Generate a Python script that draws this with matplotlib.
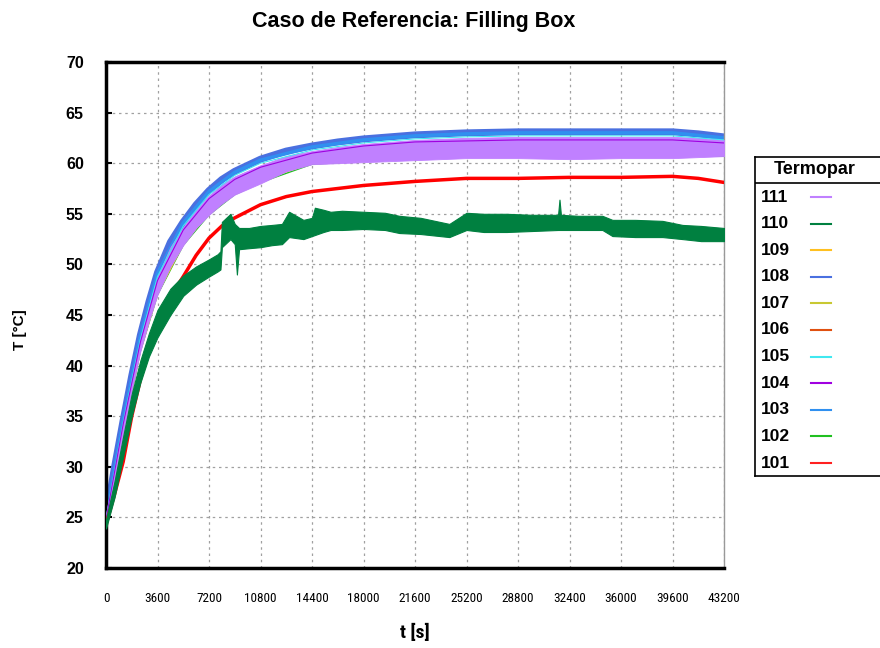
import matplotlib
matplotlib.use("Agg")
import matplotlib.pyplot as plt
from matplotlib import font_manager
from matplotlib.lines import Line2D

# tiempos (s) y temperaturas (°C)
t_band = [0, 600, 1200, 1800, 2400, 3000, 3600, 4500, 5400, 6300, 7200, 8100, 9000,
          10800, 12600, 14400, 16200, 18000, 21600, 25200, 28800, 32400, 36000,
          39600, 41400, 43200]
T108 = [25.0, 30.0, 34.6, 39.0, 43.0, 46.3, 49.2, 52.2, 54.2, 55.9, 57.3, 58.4, 59.2,
        60.4, 61.2, 61.7, 62.1, 62.4, 62.8, 63.0, 63.1, 63.1, 63.1, 63.1, 62.9, 62.6]
T111_hi = [25.3, 29.8, 34.4, 38.7, 42.6, 45.9, 48.8, 51.7, 53.7, 55.4, 56.8, 57.9, 58.7,
           59.8, 60.7, 61.2, 61.6, 61.9, 62.3, 62.5, 62.6, 62.6, 62.6, 62.6, 62.5, 62.3]
T111_lo = [24.4, 28.8, 33.3, 37.6, 41.4, 44.4, 47.0, 49.8, 51.9, 53.6, 54.9, 56.0, 56.9,
           58.0, 59.2, 59.9, 60.0, 60.1, 60.3, 60.5, 60.5, 60.4, 60.5, 60.5, 60.6, 60.7]
T101 = [24.3, 27.3, 30.5, 35.0, 38.6, 41.6, 44.0, 46.8, 48.8, 50.9, 52.6, 53.8, 54.6,
        55.9, 56.7, 57.2, 57.5, 57.8, 58.2, 58.5, 58.5, 58.6, 58.6, 58.7, 58.5, 58.1]

t_g = [0, 600, 1200, 1800, 2400, 3000, 3600, 4500, 5400, 6300,
       7200, 7800, 8000, 8100, 8700, 9000, 9150, 9300, 10000, 10800,
       11600, 12300, 12800, 13300, 13800, 14400, 14600, 15200, 15700, 16500,
       18000, 19500, 20500, 22000, 24000, 25200, 26400, 28000, 29800, 31600,
       31700, 31800, 33000, 34700, 35400, 37000, 38900, 40300, 41600, 43200]
T110_hi = [24.8, 28.6, 33.0, 37.2, 40.5, 43.2, 45.5, 47.6, 48.9, 49.8,
           50.5, 51.0, 51.3, 54.2, 55.0, 54.0, 53.8, 53.6, 53.6, 53.8,
           53.9, 54.0, 55.2, 54.8, 54.4, 54.6, 55.6, 55.4, 55.2, 55.3,
           55.2, 55.1, 54.8, 54.6, 54.0, 55.1, 55.0, 55.0, 54.9, 54.9,
           56.4, 54.9, 54.8, 54.8, 54.4, 54.4, 54.3, 53.9, 53.8, 53.6]
T110_lo = [23.9, 27.0, 31.0, 35.0, 38.3, 40.9, 42.8, 45.0, 46.9, 48.0,
           48.8, 49.3, 49.5, 51.7, 52.5, 52.0, 49.0, 51.5, 51.6, 51.7,
           51.9, 52.0, 52.7, 52.6, 52.5, 52.8, 52.9, 53.2, 53.4, 53.4,
           53.5, 53.4, 53.1, 53.0, 52.7, 53.4, 53.2, 53.2, 53.3, 53.4,
           53.4, 53.4, 53.4, 53.4, 52.8, 52.7, 52.7, 52.5, 52.3, 52.3]

t_s = [0, 1200, 2400, 3600, 5400, 7200, 9000, 10800, 14400, 18000, 21600, 25200,
       28800, 32400, 36000, 39600, 43200]
T102 = [24.4, 33.3, 41.4, 47.0, 51.9, 54.9, 56.9, 58.1, 59.9, 60.2, 60.5, 60.7, 60.7, 60.7, 60.7, 60.8, 60.7]
T103 = [25.0, 34.6, 42.9, 49.1, 54.1, 57.2, 59.1, 60.3, 61.6, 62.3, 62.7, 62.9, 63.0, 63.0, 63.0, 63.0, 62.5]
T104 = [24.8, 34.2, 42.3, 48.4, 53.4, 56.5, 58.4, 59.6, 61.0, 61.7, 62.1, 62.2, 62.3, 62.3, 62.3, 62.3, 62.0]
T105 = [24.9, 34.4, 42.6, 48.8, 53.8, 56.9, 58.8, 60.0, 61.3, 62.0, 62.4, 62.6, 62.7, 62.7, 62.7, 62.7, 62.3]
T106 = [25.0, 34.6, 42.9, 49.1, 54.1, 57.2, 59.1, 60.3, 61.7, 62.4, 62.8, 63.0, 63.1, 63.1, 63.1, 63.1, 62.6]
T107 = [24.6, 33.6, 41.6, 47.3, 52.2, 55.3, 57.2, 58.5, 60.1, 60.5, 60.8, 61.0, 61.0, 61.0, 61.0, 61.1, 60.9]
T109 = [24.6, 33.4, 41.5, 47.1, 52.0, 55.1, 57.1, 58.3, 60.0, 60.4, 60.7, 60.9, 60.9, 60.9, 60.9, 61.0, 60.8]

labels = ["111", "110", "109", "108", "107", "106", "105", "104", "103", "102", "101"]
colors = ["#c080ff", "#008040", "#ffc020", "#4a70e0", "#c8c832", "#e05010",
          "#40e8f0", "#a000e0", "#3090f0", "#20c020", "#ff2020"]
col = dict(zip(labels, colors))

xticks = list(range(0, 43201, 3600))
yticks = list(range(20, 71, 5))

avail = {f.name for f in font_manager.fontManager.ttflist}
bold = ['Liberation Sans', 'DejaVu Sans']
narrow = None
for cand in ['Liberation Sans Narrow', 'Roboto Condensed', 'DejaVu Sans Condensed']:
    if cand in avail:
        narrow = [cand, 'DejaVu Sans']
        break
if narrow is None:
    narrow = bold
    xt_size = 7.5
else:
    xt_size = 9.5

fig = plt.figure(figsize=(8.8, 6.48), dpi=100)
ax = fig.add_axes([106 / 880, 1 - 568 / 648, 618 / 880, 506 / 648])

# series finas, casi ocultas bajo la banda
thin = {"102": T102, "106": T106, "107": T107, "109": T109}
for k, v in thin.items():
    ax.plot(t_s, v, color=col[k], lw=1.0, zorder=2)
ax.plot(t_band, T108, color=col["108"], lw=5, zorder=2)
ax.plot(t_s, T103, color=col["103"], lw=2.5, zorder=2.2)
ax.fill_between(t_band, T111_lo, T111_hi, color=col["111"], lw=0.6,
                edgecolor=col["111"], zorder=3)
ax.plot(t_s, T105, color=col["105"], lw=0.8, zorder=4)
ax.plot(t_s, T104, color=col["104"], lw=0.8, zorder=4)
ax.plot(t_band, T101, color="#ff0000", lw=2.5, zorder=5)
ax.fill_between(t_g, T110_lo, T110_hi, color=col["110"], lw=0.8,
                edgecolor=col["110"], zorder=6)

ax.set_xlim(0, 43200)
ax.set_ylim(20, 70)
ax.set_xticks(xticks)
ax.set_yticks(yticks)
ax.grid(True, color='#a0a0a0', lw=0.9, dashes=(2, 3))
ax.set_axisbelow(True)
ax.tick_params(axis='x', length=0, pad=17)
ax.tick_params(axis='y', direction='in', length=4, width=1.5, pad=16)
for lab in ax.get_xticklabels():
    lab.set_family(narrow)
    lab.set_fontsize(xt_size)
for lab in ax.get_yticklabels():
    lab.set_family(bold)
    lab.set_fontweight('bold')
    lab.set_fontsize(11.5)
for s in ['left', 'top', 'bottom']:
    ax.spines[s].set_linewidth(2.5)
    ax.spines[s].set_color('black')
ax.spines['right'].set_linewidth(1)
ax.spines['right'].set_color('#999999')

fig.text(414 / 880, 1 - 21 / 648, "Caso de Referencia: Filling Box", ha='center',
         va='center', fontsize=15.5, fontweight='bold', family=bold)
fig.text(415 / 880, 1 - 633 / 648, "t [s]", ha='center', va='center',
         fontsize=14, fontweight='bold', family=narrow)
fig.text(20 / 880, 1 - 330 / 648, "T [°C]", ha='center', va='center', rotation=90,
         fontsize=11, fontweight='bold', family=bold)

# leyenda dibujada a mano (cabecera con separador)
lax = fig.add_axes([755 / 880, 1 - 476 / 648, 140 / 880, 319 / 648])
lax.set_xlim(755, 895)
lax.set_ylim(476, 157)
lax.set_xticks([])
lax.set_yticks([])
for s in lax.spines.values():
    s.set_linewidth(1.2)
lax.axhline(183, color='black', lw=1.2)
lax.text(815, 170, "Termopar", ha='center', va='center', fontsize=13,
         fontweight='bold', family=bold)
for i, (lab, c) in enumerate(zip(labels, colors)):
    y = 197 + i * 26.6
    lax.text(761, y, lab, ha='left', va='center', fontsize=12.5,
             fontweight='bold', family=bold)
    lax.add_line(Line2D([811, 831], [y, y], color=c, lw=1.5))

fig.savefig("out.png", dpi=100)
